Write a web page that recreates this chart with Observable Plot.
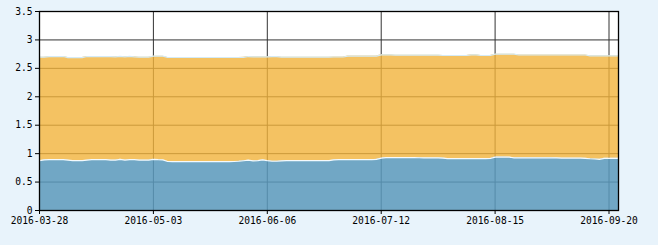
<!DOCTYPE html>
<html><head><meta charset="utf-8">
<script src="https://cdn.jsdelivr.net/npm/d3@7"></script>
<script src="https://cdn.jsdelivr.net/npm/@observablehq/plot@0.6"></script>
<style>
html,body{margin:0;padding:0;background:#e8f3fb;overflow:hidden;}
#chart svg{display:block;}
</style></head><body><div id="chart"></div>
<script>
// trading-day index positions of the x tick labels
const tickIndex = [0, 24, 48, 72, 96, 120];
const tickLabels = ["2016-03-28", "2016-05-03", "2016-06-06", "2016-07-12", "2016-08-15", "2016-09-20"];
const yTicks = [0, 0.5, 1, 1.5, 2, 2.5, 3, 3.5];

// lower (blue) layer, one value per trading day
const blueValues = [
  0.877, 0.89, 0.894, 0.894, 0.894, 0.894, 0.885, 0.877, 0.877, 0.877,
  0.885, 0.894, 0.894, 0.894, 0.894, 0.885, 0.885, 0.9, 0.885, 0.894,
  0.894, 0.885, 0.885, 0.885, 0.9, 0.894, 0.89, 0.862,
  0.86, 0.86, 0.86, 0.86, 0.86, 0.86, 0.86, 0.86, 0.86, 0.86, 0.86, 0.86, 0.86, 0.862, 0.866,
  0.875, 0.885, 0.872, 0.877, 0.89, 0.877, 0.866, 0.866, 0.872,
  0.877, 0.877, 0.877, 0.877, 0.877, 0.877, 0.877, 0.877, 0.877, 0.877,
  0.89, 0.894, 0.894, 0.894, 0.894, 0.894, 0.894, 0.894, 0.894, 0.9,
  0.92,
  0.93, 0.93, 0.93, 0.93, 0.93, 0.93, 0.93, 0.928,
  0.924, 0.924, 0.924, 0.924, 0.922,
  0.912, 0.912, 0.912, 0.912, 0.912, 0.912, 0.912, 0.912, 0.912, 0.915,
  0.94, 0.94, 0.94, 0.938,
  0.926, 0.926, 0.926, 0.926, 0.926, 0.926, 0.926, 0.926, 0.926, 0.924,
  0.92, 0.92, 0.92, 0.92, 0.92, 0.918,
  0.91, 0.906, 0.9,
  0.918, 0.918, 0.918, 0.918
];

// total (top of orange layer), one value per trading day
const totalValues = [
  2.697, 2.697,
  2.708, 2.708, 2.708, 2.708,
  2.69, 2.69, 2.69, 2.69,
  2.708, 2.708, 2.708, 2.708, 2.708, 2.708,
  2.702, 2.71, 2.702, 2.71, 2.702,
  2.697, 2.697, 2.697,
  2.714, 2.714, 2.714,
  2.691, 2.691, 2.691, 2.691, 2.691, 2.691, 2.691, 2.691, 2.691, 2.691, 2.691, 2.691, 2.691, 2.691, 2.691, 2.691, 2.694,
  2.708,
  2.702, 2.702, 2.702, 2.702,
  2.708, 2.708,
  2.697, 2.697, 2.697, 2.697, 2.697, 2.697, 2.697, 2.697, 2.697, 2.697, 2.697,
  2.70, 2.70, 2.70,
  2.716, 2.716, 2.716, 2.716, 2.716, 2.716, 2.716,
  2.738, 2.738, 2.738,
  2.732, 2.732, 2.732, 2.732, 2.732, 2.732, 2.732, 2.732, 2.732, 2.732,
  2.726, 2.726, 2.726, 2.726, 2.726, 2.726,
  2.738, 2.738,
  2.726, 2.726, 2.726,
  2.749, 2.749, 2.749, 2.749, 2.749,
  2.735, 2.735, 2.735, 2.735, 2.735, 2.735, 2.735, 2.735, 2.735, 2.735, 2.735, 2.735, 2.735, 2.735, 2.735,
  2.72, 2.72, 2.72, 2.72, 2.72, 2.72, 2.72
];

const data = blueValues.map((b, i) => ({i, blue: b, total: totalValues[i]}));
const lastIndex = data.length - 1;

const chart = Plot.plot({
  width: 658,
  height: 245,
  marginLeft: 39,
  marginRight: 40,
  marginTop: 11,
  marginBottom: 35,
  style: {fontFamily: "'DejaVu Sans Mono', monospace", fontSize: "9.6px", color: "black", background: "transparent"},
  x: {type: "linear", domain: [0, lastIndex]},
  y: {domain: [0, 3.5]},
  marks: [
    Plot.frame({fill: "white", stroke: null}),
    Plot.gridY(yTicks, {stroke: "#333", strokeOpacity: 1}),
    Plot.gridX(tickIndex, {stroke: "#333", strokeOpacity: 1}),
    Plot.area(data, {x1: "i", y1: () => 0, y2: "blue", fill: "#5a99bb", fillOpacity: 0.86}),
    Plot.area(data, {x1: "i", y1: "blue", y2: "total", fill: "#f1b33b", fillOpacity: 0.8}),
    Plot.line(data, {x: "i", y: "total", stroke: "#d4ebf7", strokeWidth: 1.2}),
    Plot.line(data, {x: "i", y: "blue", stroke: "#f4fafd", strokeWidth: 1.2}),
    Plot.frame({stroke: "black", strokeWidth: 1.3}),
    Plot.axisY(yTicks, {tickSize: 4, tickPadding: 3, tickFormat: d => String(d), stroke: "black"}),
    Plot.axisX(tickIndex, {tickSize: 4, tickPadding: 3, tickFormat: d => tickLabels[tickIndex.indexOf(d)], stroke: "black", label: null})
  ]
});
document.getElementById("chart").appendChild(chart);
</script>
</body></html>
